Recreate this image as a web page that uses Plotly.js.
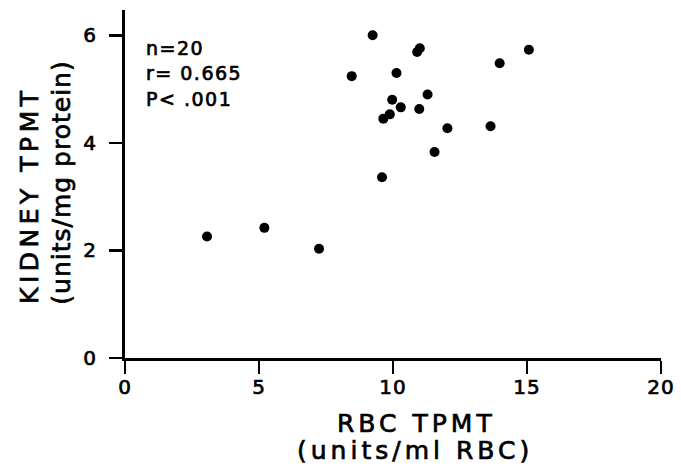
<!DOCTYPE html>
<html>
<head>
<meta charset="utf-8">
<script src="https://cdn.plot.ly/plotly-3.0.1.min.js"></script>
<style>
html, body { margin: 0; padding: 0; background: #fff; }
#chart { width: 681px; height: 471px; }
.main-svg text { stroke: #000; stroke-width: 0.7px; }
g.annotation[data-index="0"] text,
g.annotation[data-index="1"] text,
g.annotation[data-index="2"] text { letter-spacing: 1.5px; }
g.annotation[data-index="3"] text { letter-spacing: 4px; }
g.annotation[data-index="4"] text { letter-spacing: 4px; }
g.annotation[data-index="5"] text { letter-spacing: 4.5px; }
g.annotation[data-index="6"] text { letter-spacing: 1px; }
.xtick text, .ytick text { letter-spacing: 1px; }
</style>
</head>
<body>
<div id="chart"></div>
<script>
// RBC TPMT (units/ml RBC)
const rbcTPMT = [9.24, 11.00, 10.90, 15.07, 13.98, 8.46, 10.13, 11.29, 9.97, 10.29,
                 10.98, 9.88, 9.64, 12.03, 13.64, 11.55, 9.59, 3.06, 5.20, 7.24];
// Kidney TPMT (units/mg protein)
const kidneyTPMT = [6.00, 5.76, 5.69, 5.73, 5.48, 5.24, 5.30, 4.90, 4.80, 4.66,
                    4.63, 4.53, 4.45, 4.27, 4.31, 3.83, 3.36, 2.26, 2.42, 2.03];
const xTicks = [0, 5, 10, 15, 20];
const xTickText = ['0', '5', '10', '15', '20'];
const yTicks = [0, 2, 4, 6];
const yTickText = ['0', '2', '4', '6'];
const statsLines = ['n=20', 'r= 0.665', 'P< .001'];
const xTitleLines = ['RBC TPMT', '(units/ml RBC)'];
const yTitleLines = ['KIDNEY TPMT', '(units/mg protein)'];

const FONT = 'DejaVu Sans, sans-serif';

const trace = {
  x: rbcTPMT,
  y: kidneyTPMT,
  type: 'scatter',
  mode: 'markers',
  marker: { color: '#000', size: 10, line: { width: 0 } },
  hoverinfo: 'x+y'
};

const axisCommon = {
  showline: true,
  linecolor: '#000',
  linewidth: 3,
  ticks: 'outside',
  ticklen: 13,
  tickwidth: 2.5,
  tickcolor: '#000',
  showgrid: false,
  zeroline: false,
  tickfont: { family: FONT, size: 20, color: '#000' },
  tickmode: 'array'
};

const annotations = [];
const statsY = [0.891, 0.820, 0.744];
statsLines.forEach((t, i) => {
  annotations.push({
    text: t, xref: 'paper', yref: 'paper', x: 0.035, y: statsY[i],
    xanchor: 'left', yanchor: 'middle', align: 'left', showarrow: false,
    font: { family: FONT, size: 19, color: '#000' }
  });
});
const xTitlePos = [[0.543, -0.187], [0.541, -0.267]];
xTitleLines.forEach((t, i) => {
  annotations.push({
    text: t, xref: 'paper', yref: 'paper', x: xTitlePos[i][0], y: xTitlePos[i][1],
    xanchor: 'center', yanchor: 'middle', showarrow: false,
    font: { family: FONT, size: 25, color: '#000' }
  });
});
const yTitlePos = [[-0.179, 0.468], [-0.118, 0.503]];
yTitleLines.forEach((t, i) => {
  annotations.push({
    text: t, xref: 'paper', yref: 'paper', x: yTitlePos[i][0], y: yTitlePos[i][1],
    xanchor: 'center', yanchor: 'middle', showarrow: false, textangle: -90,
    font: { family: FONT, size: 25, color: '#000' }
  });
});

const layout = {
  width: 681,
  height: 471,
  margin: { l: 125, r: 20, t: 10, b: 113 },
  paper_bgcolor: '#fff',
  plot_bgcolor: '#fff',
  showlegend: false,
  xaxis: Object.assign({}, axisCommon, {
    range: [0, 20], tickvals: xTicks, ticktext: xTickText, ticklabelstandoff: -4
  }),
  yaxis: Object.assign({}, axisCommon, {
    range: [0, 6.47], tickvals: yTicks, ticktext: yTickText, ticklabelstandoff: 8
  }),
  annotations: annotations
};

Plotly.newPlot('chart', [trace], layout, { displayModeBar: false, staticPlot: true });
</script>
</body>
</html>
